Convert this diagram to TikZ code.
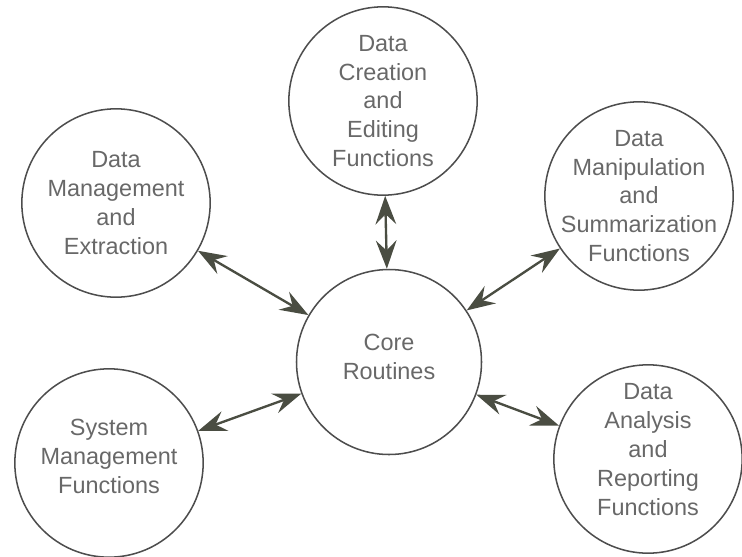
\documentclass[tikz,border=0pt]{standalone}
\usepackage{fontspec}
\setmainfont{Liberation Sans}
\usetikzlibrary{arrows.meta}
\definecolor{inkgray}{HTML}{4D4D4D}
\definecolor{arrowgray}{HTML}{4A4D42}
\tikzstyle{core}=[circle, draw=inkgray, line width=1.3pt, minimum size=5.55cm, inner sep=0pt]
\tikzstyle{module}=[circle, draw=inkgray, line width=1.3pt, minimum size=5.65cm, inner sep=0pt]
\tikzstyle{caption}=[text=inkgray!85, align=center, font=\fontsize{20}{24.7}\selectfont]
\tikzstyle{link}=[draw=arrowgray, line width=2pt,
{Stealth[length=0.85cm, width=0.62cm, inset=0.3cm]}-{Stealth[length=0.85cm, width=0.62cm, inset=0.3cm]}]

\begin{document}
\begin{tikzpicture}
\useasboundingbox (0,0) rectangle (22.26,-16.68);
\node[core, label={[caption, yshift=0.15cm]center:{Core\\Routines}}](routines) at (11.67,-10.86) {};
\node[module, label={[caption]center:{Data\\Creation\\and\\Editing\\Functions}}](creation) at (11.49,-3.03) {};
\node[module, label={[caption]center:{Data\\Management\\and\\Extraction}}](extraction) at (3.48,-6.09) {};
\node[module, label={[caption]center:{Data\\Manipulation\\and\\Summarization\\Functions}}](manipulation) at (19.17,-5.88) {};
\node[module, label={[caption, yshift=0.21cm]center:{System\\Management\\Functions}}](system) at (3.27,-13.89) {};
\node[module, label={[caption, yshift=0.29cm]center:{Data\\Analysis\\and\\Reporting\\Functions}}](analysis) at (19.44,-13.77) {};
\draw [link](routines) -- (creation);
\draw [link](routines) -- (extraction);
\draw [link](routines) -- (manipulation);
\draw [link](routines) -- (system);
\draw [link](routines) -- (analysis);
\end{tikzpicture}
\end{document}
